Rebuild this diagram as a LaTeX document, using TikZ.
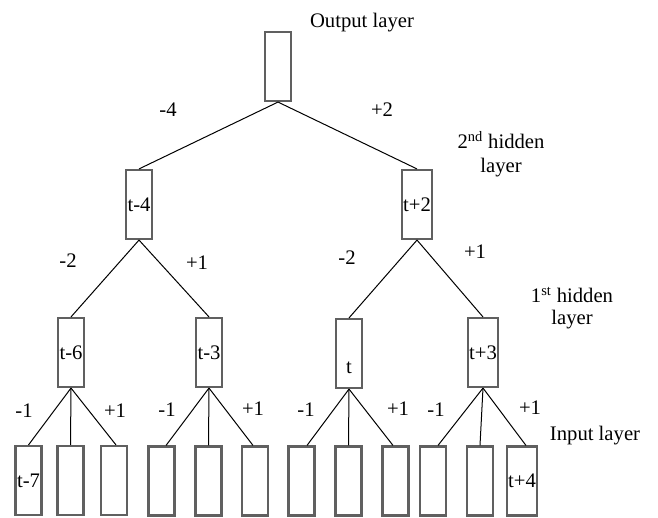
\documentclass[tikz,border=0pt]{standalone}
\usepackage{fontspec}
\setmainfont{Liberation Serif}
\usetikzlibrary{calc}
\definecolor{boxgray}{RGB}{96,96,96}
\begin{document}
\begin{tikzpicture}[x=0.75pt,y=-0.75pt,
  box/.style={draw=boxgray,line width=1.6pt,minimum width=19.5pt,minimum height=51.75pt,inner sep=0pt,font=\fontsize{15.5}{18}\selectfont},
  wbox/.style={box,minimum width=22.5pt},
  lab/.style={inner sep=0pt,font=\fontsize{15.5}{18}\selectfont},
  conn/.style={draw=black,line width=0.75pt}]
\useasboundingbox (0,0) rectangle (658,518);
% boxes
\node[box] (out) at (278,66.5) {};
\node[box] (h2a) at (139,204.5) {t-4};
\node[wbox] (h2b) at (417,204.5) {t+2};
\node[box] (h1a) at (71,352.5) {t-6};
\node[box] (h1b) at (209,352.5) {t-3};
\node[box] (h1c) at (349,353.5) {};
\node[wbox] (h1d) at (483,352.5) {t+3};
\node[box] (in1) at (28.5,480.5) {t-7};
\node[box] (in2) at (70.5,480.5) {};
\node[box] (in3) at (114,480.5) {};
\node[box] (in4) at (161.5,481) {};
\node[box] (in5) at (208.5,481) {};
\node[box] (in6) at (255,481) {};
\node[box] (in7) at (301.5,481) {};
\node[box] (in8) at (348.5,481) {};
\node[box] (in9) at (395.5,481) {};
\node[box] (in10) at (433,481) {};
\node[box] (in11) at (480,481) {};
\node[wbox] (in12) at (522,481) {t+4};
\node[lab,anchor=base] (tl) at (349,373) {t};
% connectors
\draw[conn] (out.south) -- (h2a.north);
\draw[conn] (out.south) -- (h2b.north);
\draw[conn] (h2a.south) -- (h1a.north);
\draw[conn] (h2a.south) -- (h1b.north);
\draw[conn] (h2b.south) -- (h1c.north);
\draw[conn] (h2b.south) -- (h1d.north);
\draw[conn] (h1a.south) -- (in1.north);
\draw[conn] (h1a.south) -- (in2.north);
\draw[conn] (h1a.south) -- ($(in3.north)+(2,0)$);
\draw[conn] (h1b.south) -- ($(in4.north)+(4.5,0)$);
\draw[conn] (h1b.south) -- (in5.north);
\draw[conn] (h1b.south) -- ($(in6.north)+(-2,0)$);
\draw[conn] (h1c.south) -- ($(in7.north)+(5.5,0)$);
\draw[conn] (h1c.south) -- (in8.north);
\draw[conn] (h1c.south) -- ($(in9.north)+(-2.5,0)$);
\draw[conn] (h1d.south) -- ($(in10.north)+(5,0)$);
\draw[conn] (h1d.south) -- (in11.north);
\draw[conn] (h1d.south) -- ($(in12.north)+(4,0)$);
% labels
\node[lab,anchor=base] (lout) at (362,27) {Output layer};
\node[lab,anchor=base] (w1) at (168,116) {-4};
\node[lab,anchor=base] (w2) at (382,116) {+2};
\node[lab,align=center,font=\fontsize{15.5}{18}\selectfont] (l2) at (501,154) {2\textsuperscript{nd} hidden\\layer};
\node[lab,anchor=base] (w3) at (68,267) {-2};
\node[lab,anchor=base] (w4) at (197,269) {+1};
\node[lab,anchor=base] (w5) at (347,264) {-2};
\node[lab,anchor=base] (w6) at (475,258) {+1};
\node[lab,align=center,font=\fontsize{15.5}{16.5}\selectfont] (l1) at (572,308) {1\textsuperscript{st} hidden\\layer};
\node[lab,anchor=base] (v1) at (24,417) {-1};
\node[lab,anchor=base] (v2) at (115,417) {+1};
\node[lab,anchor=base] (v3) at (167,416) {-1};
\node[lab,anchor=base] (v4) at (253,415) {+1};
\node[lab,anchor=base] (v5) at (306,416) {-1};
\node[lab,anchor=base] (v6) at (398,415) {+1};
\node[lab,anchor=base] (v7) at (436,416) {-1};
\node[lab,anchor=base] (v8) at (530,414) {+1};
\node[lab,anchor=base] (lin) at (595,440) {Input layer};
\end{tikzpicture}
\end{document}
